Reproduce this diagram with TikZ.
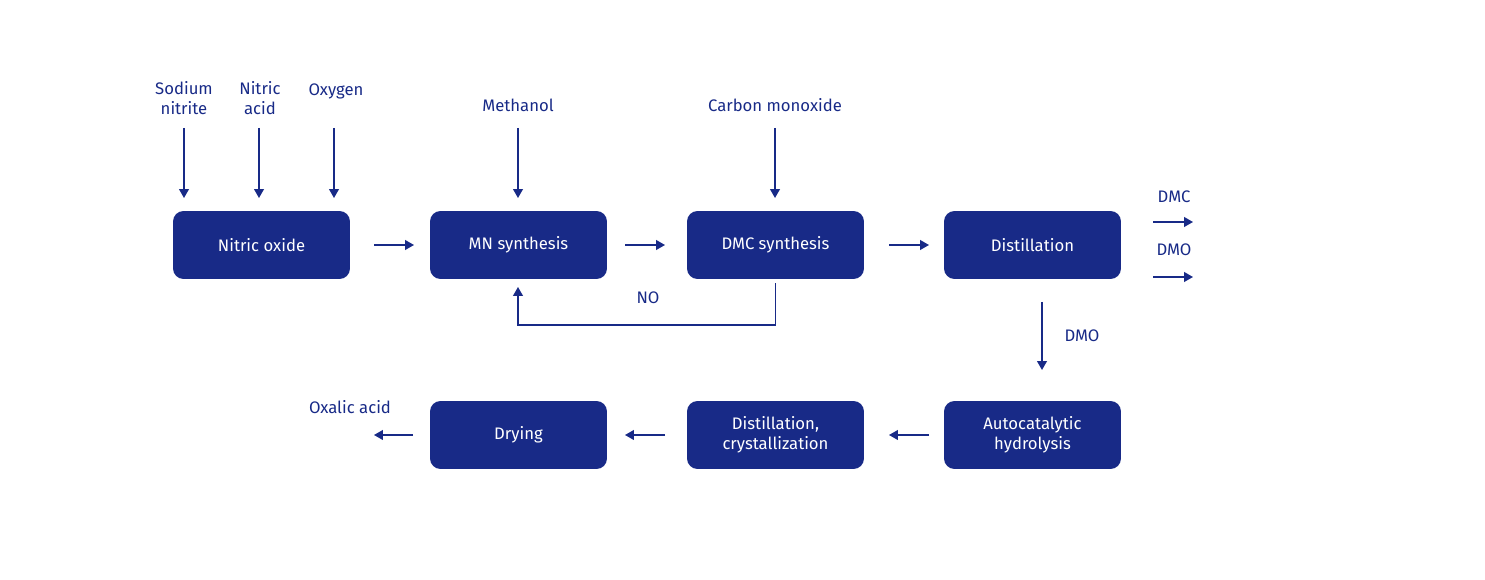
\documentclass[tikz,border=0pt]{standalone}
\usepackage{fontspec}
\setmainfont{Fira Sans}
\usetikzlibrary{arrows.meta,positioning}
\definecolor{navy}{HTML}{182A87}
\begin{document}
\begin{tikzpicture}[x=0.02cm,y=-0.02cm,
  stage/.style={rectangle,rounded corners=6pt,fill=navy,text=white,minimum width=3.54cm,minimum height=1.36cm,align=center,font=\fontsize{9.5}{11.5}\selectfont,inner sep=0pt},
  lbl/.style={text=navy,align=center,font=\fontsize{9.5}{11.5}\selectfont,inner sep=1pt},
  flow/.style={draw=navy,line width=0.8pt,-{Triangle[length=5pt,width=5.5pt]}}]
\useasboundingbox (0,0) rectangle (1485,580);
% first row
\node[stage] (no) at (261.5,245) {Nitric oxide};
\node[stage] (mn) at (518.5,245) {MN synthesis};
\node[stage] (dmc) at (775.5,245) {DMC synthesis};
\node[stage] (dist) at (1032.5,245) {Distillation};
% second row
\node[stage] (hyd) at (1032.5,435) {Autocatalytic\\hydrolysis};
\node[stage] (cry) at (775.5,435) {Distillation,\\crystallization};
\node[stage] (dry) at (518.5,435) {Drying};
% feeds
\node[lbl] (sod) at (184,98) {Sodium\\nitrite};
\node[lbl] (nac) at (260,98) {Nitric\\acid};
\node[lbl] (oxy) at (336,91) {Oxygen};
\node[lbl] (meth) at (518,105) {Methanol};
\node[lbl] (co) at (775,105) {Carbon monoxide};
\foreach \x in {184,259,334,518,775}
  \draw[flow] (\x,128) -- (\x,198);
% main line
\draw[flow] (374,245) -- (414,245);
\draw[flow] (625,245) -- (665,245);
\draw[flow] (889,245) -- (929,245);
% recycle
\draw[flow] (dmc.south) ++(0,4) |- (518,325) -- (518,287);
\node[lbl] (nolbl) at (648,298) {NO};
% products
\node[lbl] (dmcout) at (1174,197) {DMC};
\node[lbl] (dmoout) at (1174,250) {DMO};
\draw[flow] (1153,222) -- (1193,222);
\draw[flow] (1153,277) -- (1193,277);
\draw[flow] (1042,302) -- (1042,370);
\node[lbl] (dmodown) at (1082,336) {DMO};
% second row back
\draw[flow] (929,435) -- (889,435);
\draw[flow] (665,435) -- (625,435);
\draw[flow] (413,435) -- (374,435);
\node[lbl] (ox) at (350,407) {Oxalic acid};
\end{tikzpicture}
\end{document}
